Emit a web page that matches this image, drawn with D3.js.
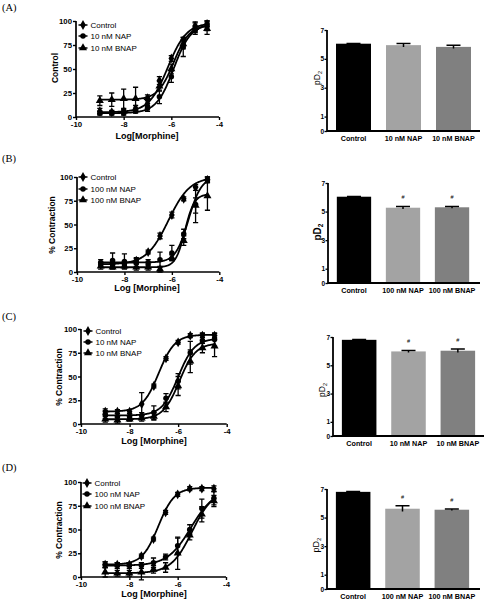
<!DOCTYPE html>
<html><head><meta charset="utf-8">
<script src="https://cdn.jsdelivr.net/npm/d3@7"></script>
<style>body{margin:0;background:#fff}svg{display:block}</style>
</head><body>
<svg id="c" width="487" height="600"></svg>
<script>
// ---------- DATA ----------
const doses = [-9, -8.5, -8, -7.5, -7, -6.5, -6, -5.5, -5, -4.5];
const xTicks = [-10, -8, -6, -4];
const yTicks = [0, 25, 50, 75, 100];
const barTicks = [0, 1, 3, 5, 7];
const legend10 = ["Control", "10 nM NAP", "10 nM BNAP"];
const legend100 = ["Control", "100 nM NAP", "100 nM BNAP"];

// Panel A
const aControl = [6, 5, 6, 9, 14, 38, 61, 80, 95, 97];
const aControlErr = [3, 2, 2, 3, 3, 4, 3, 3, 4, 3];
const aNAP = [4, 4, 4, 6, 9, 21, 42, 73, 90, 95];
const aNAPErr = [2, 2, 2, 2, 3, 7, 6, 10, 4, 5];
const aBNAP = [17, 18, 19, 19, 20, 32, 50, 76, 93, 92];
const aBNAPErr = [5, 7, 10, 12, 3, 5, 5, 5, 5, 6];
// fitted curve parameters [bottom, top, logEC50, hill]
const aControlFit = [5, 98, -6.15, 1.1];
const aNAPFit = [4, 97, -5.9, 1.2];
const aBNAPFit = [18, 96, -5.9, 1.3];
const aBars = [6.05, 5.95, 5.83];
const aBarsErr = [0.02, 0.12, 0.12];
const aSig = ["", "", ""];

// Panel B
const bControl = [8, 8, 9, 12, 21, 38, 60, 77, 89, 97];
const bControlErr = [2, 2, 2, 3, 2, 3, 3, 2, 3, 3];
const bNAP = [10, 12, 11, 10, 10, 13, 20, 40, 71, 97];
const bNAPErr = [3, 8, 8, 4, 3, 8, 8, 5, 19, 3];
const bBNAP = [6, 5, 6, 5, 5, 3, 15, 33, 70, 80];
const bBNAPErr = [3, 2, 2, 3, 3, 3, 3, 5, 8, 15];
const bControlFit = [8, 100, -6.15, 0.95];
const bNAPFit = [10, 100, -5.3, 1.6];
const bBNAPFit = [5, 82, -5.45, 2.2];
const bBars = [6.04, 5.27, 5.3];
const bBarsErr = [0.02, 0.09, 0.06];
const bSig = ["", "#", "#"];

// Panel C
const cControl = [13, 13, 13, 21, 40, 69, 86, 93, 93, 93];
const cControlErr = [3, 2, 2, 12, 2, 2, 2, 2, 2, 2];
const cNAP = [10, 8, 8, 9, 12, 27, 45, 75, 88, 89];
const cNAPErr = [4, 3, 3, 3, 7, 5, 8, 12, 8, 7];
const cBNAP = [5, 4, 5, 6, 8, 18, 40, 66, 80, 82];
const cBNAPErr = [3, 3, 2, 3, 4, 5, 10, 12, 5, 11];
const cControlFit = [13, 94, -6.8, 1.3];
const cNAPFit = [9, 90, -6.0, 1.3];
const cBNAPFit = [5, 85, -5.95, 1.3];
const cBars = [6.8, 5.98, 6.03];
const cBarsErr = [0.02, 0.07, 0.13];
const cSig = ["", "#", "#"];

// Panel D
const dControl = [13, 13, 13, 22, 40, 68, 87, 93, 93, 93];
const dControlErr = [3, 2, 2, 2, 2, 2, 2, 2, 2, 3];
const dNAP = [13, 12, 12, 12, 15, 21, 33, 50, 72, 83];
const dNAPErr = [3, 3, 3, 3, 5, 3, 8, 5, 10, 7];
const dBNAP = [5, 4, 4, 5, 8, 10, 25, 44, 66, 80];
const dBNAPErr = [5, 3, 3, 8, 4, 5, 17, 5, 8, 6];
const dControlFit = [13, 94, -6.8, 1.3];
const dNAPFit = [12, 92, -5.45, 0.9];
const dBNAPFit = [4, 92, -5.4, 1.0];
const dBars = [6.8, 5.62, 5.55];
const dBarsErr = [0.02, 0.2, 0.05];
const dSig = ["", "#", "#"];

// ---------- DRAWING ----------
const svg = d3.select("#c");
const SANS = "'Liberation Sans', Arial, sans-serif";
const SERIF = "'Liberation Serif', 'Times New Roman', serif";
const symbols = [d3.symbolDiamond, d3.symbolCircle, d3.symbolTriangle];
const symSizes = [28, 24, 28];
const barColors = ["#000000", "#a3a3a3", "#808080"];

function logistic(p, x) {
  return p[0] + (p[1] - p[0]) / (1 + Math.pow(10, (p[2] - x) * p[3]));
}

function curvePanel(cfg) {
  const x = d3.scaleLinear().domain([-10, -4]).range([cfg.x0, cfg.x1]);
  const y = d3.scaleLinear().domain([0, 100]).range([cfg.y0, cfg.y1]);
  const g = svg.append("g");

  const xa = d3.axisBottom(x).tickValues(xTicks).tickSize(3).tickPadding(1.5).tickFormat(d => String(d));
  const ya = d3.axisLeft(y).tickValues(yTicks).tickSize(3).tickPadding(1).tickFormat(d => String(d));
  const gx = g.append("g").attr("transform", `translate(0,${cfg.y0})`).call(xa);
  const gy = g.append("g").attr("transform", `translate(${x(-10)},0)`).call(ya);
  [gx, gy].forEach(a => {
    a.select(".domain").attr("stroke", "#000").attr("stroke-width", 1.7);
    a.selectAll(".tick line").attr("stroke", "#000").attr("stroke-width", 1.4);
    a.selectAll(".tick text").attr("fill", "#000").attr("font-family", SANS)
      .attr("font-weight", "bold").attr("font-size", 7.8);
  });
  gy.select(".domain").attr("d", `M0,${cfg.y0}V${cfg.y1}`);
  gx.select(".domain").attr("d", `M${cfg.x0},0H${cfg.x1}`);

  const xs = d3.range(-9, -4.5 + 1e-9, 0.02);
  const line = d3.line().x(d => x(d[0])).y(d => y(d[1]));

  cfg.series.forEach((s, i) => {
    g.append("path").datum(xs.map(v => [v, logistic(s.fit, v)]))
      .attr("d", line).attr("fill", "none").attr("stroke", "#000").attr("stroke-width", 1.8);
    s.vals.forEach((v, j) => {
      const px = x(doses[j]);
      const e = s.err[j];
      g.append("path")
        .attr("d", `M${px},${y(v - e)}V${y(v + e)}M${px - 2.6},${y(v + e)}H${px + 2.6}M${px - 2.6},${y(v - e)}H${px + 2.6}`)
        .attr("stroke", "#000").attr("stroke-width", 1.3).attr("fill", "none");
      g.append("path").attr("d", d3.symbol().type(symbols[i]).size(symSizes[i])())
        .attr("transform", `translate(${px},${y(v)})`).attr("fill", "#000");
    });
  });

  // legend
  cfg.legend.forEach((t, i) => {
    const ly = cfg.ly[i];
    g.append("line").attr("x1", cfg.lx - 4.5).attr("x2", cfg.lx + 4.5).attr("y1", ly).attr("y2", ly)
      .attr("stroke", "#000").attr("stroke-width", 1.5);
    g.append("path").attr("d", d3.symbol().type(symbols[i]).size(symSizes[i])())
      .attr("transform", `translate(${cfg.lx},${ly})`).attr("fill", "#000");
    g.append("text").attr("x", cfg.lx + 7.5).attr("y", ly).attr("dy", "0.35em")
      .attr("font-family", SANS).attr("font-size", 8).attr("fill", "#000").text(t);
  });

  g.append("text").attr("x", cfg.xlx).attr("y", cfg.xly).attr("dy", "0.35em")
    .attr("text-anchor", "middle").attr("font-family", SANS).attr("font-weight", "bold")
    .attr("font-size", 9).text(cfg.xlabel);
  g.append("text").attr("transform", `translate(${cfg.ylx},${cfg.yly}) rotate(-90)`).attr("dy", "0.35em")
    .attr("text-anchor", "middle").attr("font-family", SANS).attr("font-weight", "bold")
    .attr("font-size", cfg.ylsize).text(cfg.ylabel);

  svg.append("text").attr("x", 2).attr("y", cfg.py).attr("dy", "0.35em")
    .attr("font-family", SERIF).attr("font-size", 10.5).attr("fill", "#000").text(cfg.panel);
}

function barPanel(cfg) {
  const x = d3.scaleBand().domain(cfg.labels).range([cfg.bx0, cfg.bx1]).paddingInner(0.3).paddingOuter(0.18);
  const y = d3.scaleLinear().domain([0, 7]).range([cfg.y0, cfg.y7]);
  const g = svg.append("g");

  g.selectAll("rect.bar").data(cfg.vals).join("rect")
    .attr("x", (d, i) => x(cfg.labels[i])).attr("width", x.bandwidth())
    .attr("y", d => y(d)).attr("height", d => y(0) - y(d))
    .attr("fill", (d, i) => barColors[i]);

  cfg.vals.forEach((v, i) => {
    const cx = x(cfg.labels[i]) + x.bandwidth() / 2;
    const e = cfg.err[i];
    const cw = 7;
    g.append("path").attr("d", `M${cx},${y(v - e)}V${y(v + e)}M${cx - cw},${y(v + e)}H${cx + cw}`)
      .attr("stroke", "#000").attr("stroke-width", 1.5).attr("fill", "none");
    if (cfg.sig[i]) {
      g.append("text").attr("x", cx).attr("y", y(v + e) - 9).attr("dy", "0.35em")
        .attr("text-anchor", "middle").attr("font-family", SANS).attr("font-size", 5.5)
        .attr("fill", "#000").text(cfg.sig[i]);
    }
  });

  const ya = d3.axisLeft(y).tickValues(barTicks).tickSize(2.5).tickPadding(0.5).tickFormat(d => String(d));
  const gy = g.append("g").attr("transform", `translate(${cfg.ax},0)`).call(ya);
  gy.select(".domain").attr("d", `M0,${cfg.y0}V${cfg.y7}`).attr("stroke", "#000").attr("stroke-width", 1.8);
  gy.selectAll(".tick line").attr("stroke", "#000").attr("stroke-width", 1.3);
  gy.selectAll(".tick text").attr("fill", "#000").attr("font-family", SANS)
    .attr("font-weight", "bold").attr("font-size", 6.5);

  g.append("line").attr("x1", cfg.ax).attr("x2", cfg.axEnd).attr("y1", cfg.y0).attr("y2", cfg.y0)
    .attr("stroke", "#000").attr("stroke-width", 1.9);

  cfg.labels.forEach((t, i) => {
    g.append("text").attr("x", x(t) + x.bandwidth() / 2).attr("y", cfg.y0 + 7).attr("dy", "0.35em")
      .attr("text-anchor", "middle").attr("font-family", SANS).attr("font-weight", "bold")
      .attr("font-size", 7.2).attr("fill", "#000").text(t);
  });

  const yl = g.append("text").attr("transform", `translate(${cfg.ylx},${cfg.yly}) rotate(-90)`).attr("dy", "0.35em")
    .attr("text-anchor", "middle").attr("font-family", SANS).attr("font-weight", cfg.ylbold ? "bold" : "normal")
    .attr("font-size", cfg.ylsize).attr("fill", "#000");
  yl.append("tspan").text("pD");
  yl.append("tspan").attr("font-size", cfg.ylsize * 0.65).attr("dy", "0.35em").text("2");
}

// Panel A
curvePanel({
  panel: "(A)", py: 7, x0: 76, x1: 219, y0: 117, y1: 21,
  series: [
    { vals: aControl, err: aControlErr, fit: aControlFit },
    { vals: aNAP, err: aNAPErr, fit: aNAPFit },
    { vals: aBNAP, err: aBNAPErr, fit: aBNAPFit }],
  legend: legend10, lx: 83, ly: [25, 36, 48],
  xlabel: "Log[Morphine]", xlx: 147, xly: 136,
  ylabel: "Control", ylx: 55, yly: 68, ylsize: 8.5
});
barPanel({
  labels: legend10, vals: aBars, err: aBarsErr, sig: aSig,
  bx0: 327, bx1: 480, ax: 327, axEnd: 480, y0: 131, y7: 30,
  ylx: 317, yly: 78, ylsize: 8.5, ylbold: false
});

// Panel B
curvePanel({
  panel: "(B)", py: 158, x0: 77, x1: 219.3, y0: 272, y1: 177,
  series: [
    { vals: bControl, err: bControlErr, fit: bControlFit },
    { vals: bNAP, err: bNAPErr, fit: bNAPFit },
    { vals: bBNAP, err: bBNAPErr, fit: bBNAPFit }],
  legend: legend100, lx: 83, ly: [177, 189, 200],
  xlabel: "Log [Morphine]", xlx: 147, xly: 288,
  ylabel: "% Contraction", ylx: 52, yly: 225, ylsize: 8.5
});
barPanel({
  labels: legend100, vals: bBars, err: bBarsErr, sig: bSig,
  bx0: 328, bx1: 478, ax: 328, axEnd: 480, y0: 283, y7: 183,
  ylx: 317, yly: 232, ylsize: 10, ylbold: true
});

// Panel C
curvePanel({
  panel: "(C)", py: 316, x0: 81, x1: 226.7, y0: 424, y1: 329,
  series: [
    { vals: cControl, err: cControlErr, fit: cControlFit },
    { vals: cNAP, err: cNAPErr, fit: cNAPFit },
    { vals: cBNAP, err: cBNAPErr, fit: cBNAPFit }],
  legend: legend10, lx: 88, ly: [331, 342, 353],
  xlabel: "Log [Morphine]", xlx: 154, xly: 441,
  ylabel: "% Contraction", ylx: 59, yly: 377, ylsize: 8.5
});
barPanel({
  labels: legend10, vals: cBars, err: cBarsErr, sig: cSig,
  bx0: 333, bx1: 484, ax: 333, axEnd: 484, y0: 436, y7: 337,
  ylx: 322, yly: 390, ylsize: 8.5, ylbold: false
});

// Panel D
curvePanel({
  panel: "(D)", py: 467, x0: 81, x1: 226, y0: 577, y1: 482,
  series: [
    { vals: dControl, err: dControlErr, fit: dControlFit },
    { vals: dNAP, err: dNAPErr, fit: dNAPFit },
    { vals: dBNAP, err: dBNAPErr, fit: dBNAPFit }],
  legend: legend100, lx: 87, ly: [483, 494, 506],
  xlabel: "Log [Morphine]", xlx: 154, xly: 594,
  ylabel: "% Contraction", ylx: 59, yly: 530, ylsize: 8.5
});
barPanel({
  labels: legend100, vals: dBars, err: dBarsErr, sig: dSig,
  bx0: 327, bx1: 478, ax: 327, axEnd: 480, y0: 589, y7: 489,
  ylx: 316, yly: 545, ylsize: 9, ylbold: false
});
</script>
</body></html>
